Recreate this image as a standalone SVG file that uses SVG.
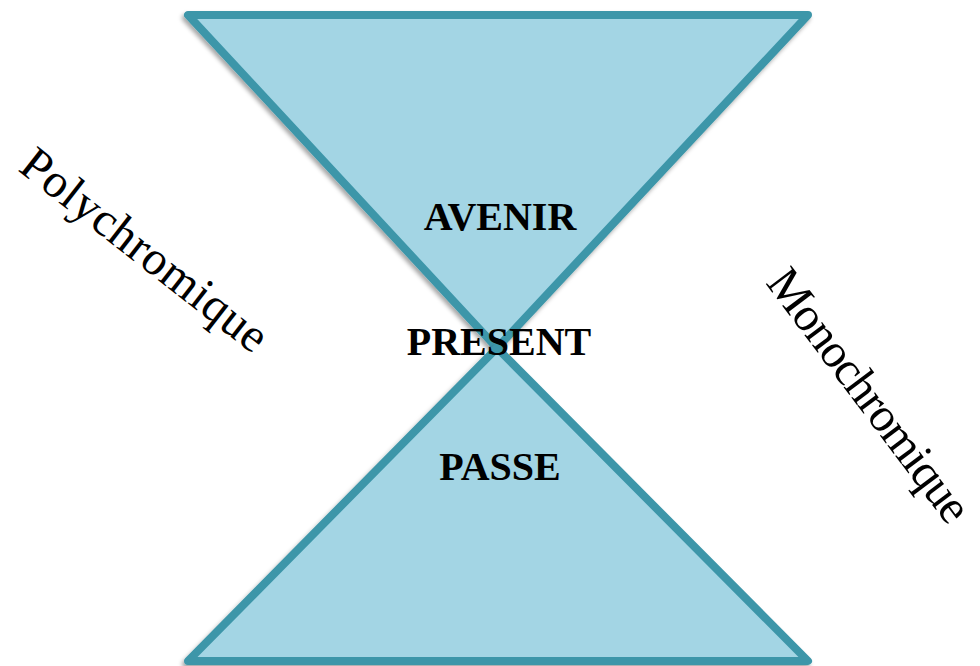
<svg xmlns="http://www.w3.org/2000/svg" width="980" height="666" viewBox="0 0 980 666">
<style>
.tri{fill:#a3d5e4;stroke:#3d96a9;stroke-width:8;stroke-linejoin:round}
.lbl{font-family:"Liberation Serif","DejaVu Serif",serif;font-weight:bold;font-size:40px;fill:#000;text-anchor:middle}
.side{font-family:"Liberation Serif","DejaVu Serif",serif;font-size:48px;fill:#000}
</style>
<defs>
<filter id="sh" x="-10%" y="-10%" width="120%" height="120%">
<feDropShadow dx="-2" dy="3" stdDeviation="2" flood-color="#000" flood-opacity="0.35"/>
</filter>
</defs>
<rect width="980" height="666" fill="#fff"/>
<g id="top" filter="url(#sh)"><polygon class="tri" points="188,15 808,15 497,348"/></g>
<g id="bottom" filter="url(#sh)"><polygon class="tri" points="497,348 808,661 188,661"/></g>
<g id="avenir"><text class="lbl" x="500" y="230">AVENIR</text></g>
<g id="present"><text class="lbl" x="499" y="355">PRESENT</text></g>
<g id="passe"><text class="lbl" x="500" y="480">PASSE</text></g>
<g id="poly"><text class="side" transform="translate(17,170) rotate(38)" textLength="300">Polychromique</text></g>
<g id="mono"><text class="side" transform="translate(765,283) rotate(53)" textLength="305">Monochromique</text></g>
</svg>
